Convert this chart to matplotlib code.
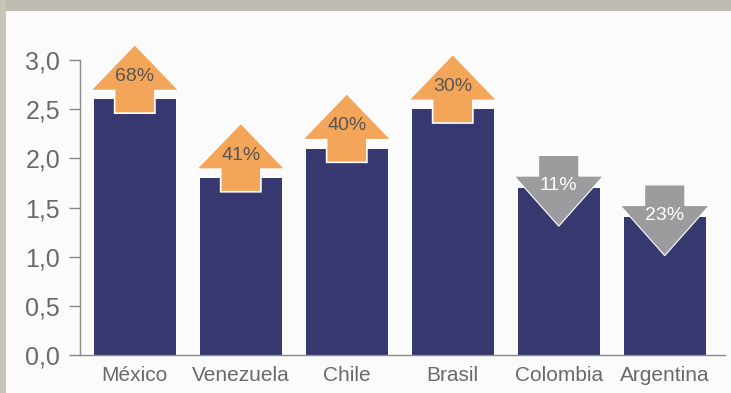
import matplotlib.pyplot as plt
from matplotlib.patches import Polygon, Rectangle

countries = ["México", "Venezuela", "Chile", "Brasil", "Colombia", "Argentina"]
values = [2.6, 1.8, 2.1, 2.5, 1.7, 1.4]
changes = ["68%", "41%", "40%", "30%", "11%", "23%"]
direction = ["up", "up", "up", "up", "down", "down"]
yticks = [0.0, 0.5, 1.0, 1.5, 2.0, 2.5, 3.0]
ytick_labels = ["0,0", "0,5", "1,0", "1,5", "2,0", "2,5", "3,0"]

BAR = "#373870"
ORANGE = "#f3a65a"
GREY_ARROW = "#9c9c9e"
TEXT = "#6a6a6a"

plt.rcParams["font.family"] = ["Liberation Sans", "DejaVu Sans"]

fig = plt.figure(figsize=(7.31, 3.93), dpi=100)
fig.patch.set_facecolor("#fbfbfb")
ax = fig.add_axes([0.109, 0.097, 0.883, 0.75])
ax.set_facecolor("#fbfbfb")

xs = list(range(len(countries)))
ax.bar(xs, values, width=0.77, color=BAR, zorder=2)


def up_arrow(x, top):
    pts = [
        (x - 0.19, top - 0.14), (x + 0.19, top - 0.14),
        (x + 0.19, top + 0.09), (x + 0.42, top + 0.09),
        (x, top + 0.56),
        (x - 0.42, top + 0.09), (x - 0.19, top + 0.09),
    ]
    return Polygon(pts, closed=True, facecolor=ORANGE, edgecolor="white",
                   linewidth=1.2, zorder=3, clip_on=False)


def down_arrow(x, top):
    pts = [
        (x - 0.19, top + 0.33), (x + 0.19, top + 0.33),
        (x + 0.19, top + 0.12), (x + 0.42, top + 0.12),
        (x, top - 0.39),
        (x - 0.42, top + 0.12), (x - 0.19, top + 0.12),
    ]
    return Polygon(pts, closed=True, facecolor=GREY_ARROW, edgecolor="white",
                   linewidth=0.8, zorder=3, clip_on=False)


for x, v, lab, d in zip(xs, values, changes, direction):
    if d == "up":
        ax.add_patch(up_arrow(x, v))
        ax.text(x, v + 0.23, lab, ha="center", va="center", fontsize=14,
                color="#5a5550", zorder=4)
    else:
        ax.add_patch(down_arrow(x, v))
        ax.text(x, v + 0.02, lab, ha="center", va="center", fontsize=14,
                color="white", zorder=4)

ax.set_xlim(-0.52, 5.57)
ax.set_ylim(0, 3.0)
ax.set_yticks(yticks)
ax.set_yticklabels(ytick_labels)
ax.set_xticks(xs)
ax.set_xticklabels(countries)

for s in ["top", "right"]:
    ax.spines[s].set_visible(False)
for s in ["left", "bottom"]:
    ax.spines[s].set_color("#8a8a8a")
    ax.spines[s].set_linewidth(1.0)

ax.tick_params(axis="y", length=8, width=1, color="#8a8a8a", labelsize=18,
               labelcolor=TEXT, pad=6)
ax.tick_params(axis="x", length=0, labelsize=15, labelcolor=TEXT, pad=8)

# top band and left frame
fig.add_artist(Rectangle((0, 0.972), 1, 0.028, transform=fig.transFigure,
                         facecolor="#bfbbb0", edgecolor="none"))
fig.add_artist(Rectangle((0, 0), 0.008, 1, transform=fig.transFigure,
                         facecolor="#c8c4ba", edgecolor="none"))

fig.savefig("out.png", dpi=100, facecolor=fig.get_facecolor())
